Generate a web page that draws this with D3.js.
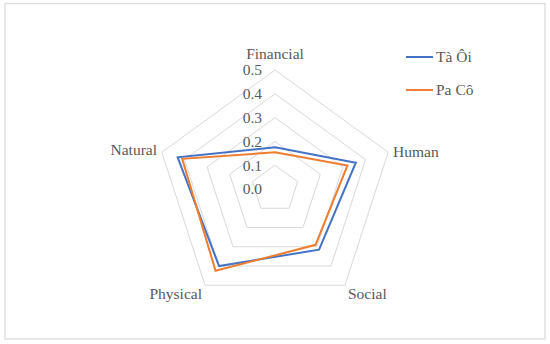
<!DOCTYPE html>
<html><head><meta charset="utf-8">
<script src="https://cdn.jsdelivr.net/npm/d3@7"></script>
<style>body{margin:0;background:#fff}svg{display:block}text{font-family:"Liberation Serif","DejaVu Serif",serif;fill:#595959}</style>
</head><body><svg id="c" width="550" height="344"></svg>
<script>
const axes = ["Financial","Human","Social","Physical","Natural"];
const seriesNames = ["Tà Ôi","Pa Cô"];
const taOi = [0.175, 0.357, 0.315, 0.40, 0.43];
const paCo = [0.154, 0.32, 0.29, 0.425, 0.41];
const ticks = [0.0,0.1,0.2,0.3,0.4,0.5];
const colors = ["#4472C4","#ED7D31"];

const svg = d3.select("#c");
svg.append("rect").attr("x",5).attr("y",3.5).attr("width",540).attr("height",335.5)
  .attr("fill","none").attr("stroke","#d9d9d9").attr("stroke-width",1.2);

const cx = 275, cy = 189, R = 119;
const r = d3.scaleLinear().domain([0,0.5]).range([0,R]);
const ang = d3.scaleLinear().domain([0,axes.length]).range([0,2*Math.PI]);
const pt = (i,v)=>[cx + r(v)*Math.sin(ang(i)), cy - r(v)*Math.cos(ang(i))];
const FS = 15.5;

const g = svg.append("g");
ticks.filter(t=>t>0).forEach(t=>{
  g.append("path").attr("d", d3.line()(axes.map((a,i)=>pt(i,t)))+"Z")
   .attr("fill","none").attr("stroke","#d9d9d9").attr("stroke-width",1);
});
ticks.forEach(t=>{
  g.append("text").attr("x",262).attr("y",cy - r(t)).attr("dy","0.35em")
   .attr("text-anchor","end").attr("font-size",FS).text(d3.format(".1f")(t));
});
[taOi,paCo].forEach((s,k)=>{
  g.append("path").attr("d", d3.line()(s.map((v,i)=>pt(i,v)))+"Z")
   .attr("fill","none").attr("stroke",colors[k]).attr("stroke-width",2).attr("stroke-linejoin","miter");
});
const lab = [
  {x:275,y:59,a:"middle"},
  {x:393,y:157,a:"start"},
  {x:348,y:299,a:"start"},
  {x:202,y:299,a:"end"},
  {x:157,y:155,a:"end"}
];
axes.forEach((a,i)=>{
  g.append("text").attr("x",lab[i].x).attr("y",lab[i].y).attr("text-anchor",lab[i].a)
   .attr("font-size",FS).text(a);
});
seriesNames.forEach((n,k)=>{
  const y = 57 + k*33;
  svg.append("line").attr("x1",406).attr("x2",433).attr("y1",y).attr("y2",y)
    .attr("stroke",colors[k]).attr("stroke-width",2);
  svg.append("text").attr("x",436).attr("y",y).attr("dy","0.35em").attr("font-size",FS).text(n);
});
</script></body></html>
